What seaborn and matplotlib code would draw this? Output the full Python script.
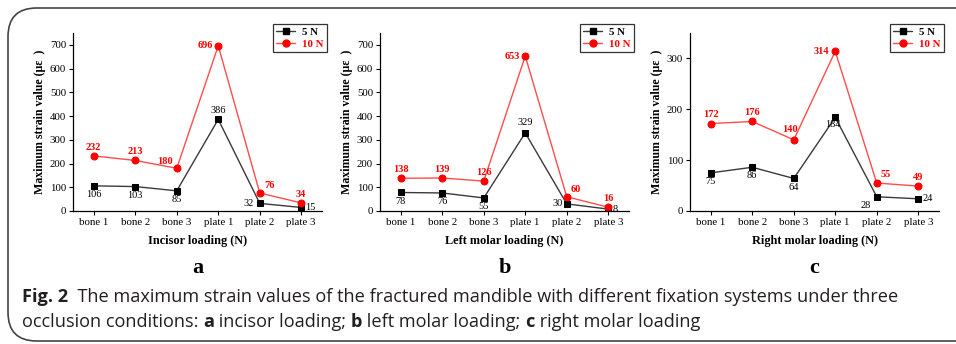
import numpy as np
import pandas as pd
import matplotlib
matplotlib.use("Agg")
import matplotlib.pyplot as plt
from matplotlib import font_manager
from matplotlib.patches import FancyBboxPatch
from matplotlib.lines import Line2D
import seaborn as sns

# ---- data ----
CATEGORIES = ["bone 1", "bone 2", "bone 3", "plate 1", "plate 2", "plate 3"]
INCISOR_5N = [106, 103, 85, 386, 32, 15]
INCISOR_10N = [232, 213, 180, 696, 76, 34]
LEFT_5N = [78, 76, 55, 329, 30, 8]
LEFT_10N = [138, 139, 126, 653, 60, 16]
RIGHT_5N = [75, 86, 64, 184, 28, 24]
RIGHT_10N = [172, 176, 140, 314, 55, 49]
XLABELS = ["Incisor loading (N)", "Left molar loading (N)", "Right molar loading (N)"]
PANEL_LETTERS = ["a", "b", "c"]
YTICKS = [[0, 100, 200, 300, 400, 500, 600, 700],
          [0, 100, 200, 300, 400, 500, 600, 700],
          [0, 100, 200, 300]]
YMAX = [750, 750, 350]

BLACK = "#000000"
GREY_LINE = "#3a3a3a"
RED = "#ff0000"
RED_LINE = "#ff4d4d"
SERIF = "Liberation Serif"

names = {f.name for f in font_manager.fontManager.ttflist}
CAP_FONT = "Open Sans" if "Open Sans" in names else "Liberation Sans"

sns.set_theme(style="white")
plt.rcParams["font.family"] = [SERIF, "DejaVu Serif"]

# label offsets (points) for each point annotation: (dx, dy, ha, va)
OFF_5N = [
    [(0, -3, "center", "top"), (0, -3, "center", "top"), (0, -3, "center", "top"),
     (0, 3, "center", "bottom"), (-4, 0, "right", "center"), (3, 0, "left", "center")],
    [(0, -3, "center", "top"), (0, -3, "center", "top"), (0, -3, "center", "top"),
     (0, 4, "center", "bottom"), (-3, 0, "right", "center"), (3, 0, "left", "center")],
    [(0, -3, "center", "top"), (0, -3, "center", "top"), (0, -3, "center", "top"),
     (-2, -2, "center", "top"), (-4, -3, "right", "top"), (3, 0, "left", "center")],
]
OFF_10N = [
    [(0, 3, "center", "bottom"), (0, 3, "center", "bottom"), (-3, 2, "right", "bottom"),
     (-4, 0, "right", "center"), (3, 2, "left", "bottom"), (0, 3, "center", "bottom")],
    [(0, 3, "center", "bottom"), (0, 3, "center", "bottom"), (0, 3, "center", "bottom"),
     (-4, 0, "right", "center"), (3, 2, "left", "bottom"), (0, 3, "center", "bottom")],
    [(0, 3, "center", "bottom"), (0, 3, "center", "bottom"), (-3, 4, "center", "bottom"),
     (-4, 0, "right", "center"), (3, 3, "left", "bottom"), (0, 3, "center", "bottom")],
]

W, H = 956, 344
fig = plt.figure(figsize=(W / 100, H / 100), dpi=100)
fig.patch.set_facecolor("white")

# rounded frame open to the right
frame = FancyBboxPatch((8 / W, 3 / H), 1.2, (H - 11) / H,
                       boxstyle="round,pad=0,rounding_size=0.03",
                       transform=fig.transFigure, fill=False,
                       edgecolor="#444444", linewidth=1.2, clip_on=False,
                       mutation_aspect=W / H)
fig.add_artist(frame)

lefts = [73, 380, 690]
ax_w = 249
ax_top, ax_bot = 33, 211
series = [(INCISOR_5N, INCISOR_10N), (LEFT_5N, LEFT_10N), (RIGHT_5N, RIGHT_10N)]
x = np.arange(len(CATEGORIES))

for i, (s5, s10) in enumerate(series):
    ax = fig.add_axes([lefts[i] / W, 1 - ax_bot / H, ax_w / W, (ax_bot - ax_top) / H])
    df = pd.DataFrame({"pos": np.concatenate([x, x]),
                       "val": s5 + s10,
                       "load": ["5 N"] * 6 + ["10 N"] * 6})
    sns.lineplot(data=df[df["load"] == "5 N"], x="pos", y="val", ax=ax,
                 color=GREY_LINE, linewidth=1.0, marker="s", markersize=4.5,
                 markerfacecolor=BLACK, markeredgecolor=BLACK, legend=False)
    sns.lineplot(data=df[df["load"] == "10 N"], x="pos", y="val", ax=ax,
                 color=RED_LINE, linewidth=1.0, marker="o", markersize=5,
                 markerfacecolor=RED, markeredgecolor=RED, legend=False)

    for j in range(6):
        dx, dy, ha, va = OFF_5N[i][j]
        ax.annotate(str(s5[j]), (x[j], s5[j]), xytext=(dx, dy), textcoords="offset points",
                    ha=ha, va=va, fontsize=7.5, color=BLACK, family=SERIF)
        dx, dy, ha, va = OFF_10N[i][j]
        ax.annotate(str(s10[j]), (x[j], s10[j]), xytext=(dx, dy), textcoords="offset points",
                    ha=ha, va=va, fontsize=7.5, color=RED, fontweight="bold", family=SERIF)

    ax.set_xlim(-0.5, 5.5)
    ax.set_ylim(0, YMAX[i])
    ax.set_xticks(x)
    ax.set_xticklabels(CATEGORIES)
    ax.set_yticks(YTICKS[i])
    ax.tick_params(axis="both", direction="out", length=3, width=0.8, labelsize=7.8,
                   colors=BLACK, pad=2, left=True, bottom=True)
    for sp in ["top", "right"]:
        ax.spines[sp].set_visible(False)
    for sp in ["left", "bottom"]:
        ax.spines[sp].set_color(BLACK)
        ax.spines[sp].set_linewidth(0.9)
    ax.set_xlabel(XLABELS[i], fontsize=8.8, fontweight="bold", labelpad=6, color=BLACK)
    ax.set_ylabel("Maximum strain value (\u03bc\u03b5  )", fontsize=8.6, fontweight="bold",
                  labelpad=3, color=BLACK)
    ax.set_facecolor("white")

    handles = [Line2D([], [], color=GREY_LINE, lw=1.0, marker="s", markersize=4.5,
                      markerfacecolor=BLACK, markeredgecolor=BLACK),
               Line2D([], [], color=RED_LINE, lw=1.0, marker="o", markersize=5,
                      markerfacecolor=RED, markeredgecolor=RED)]
    leg = ax.legend(handles, ["5 N", "10 N"], loc="upper right", bbox_to_anchor=(1.04, 1.08),
                    frameon=True, fancybox=False, handlelength=1.8,
                    handletextpad=0.6, borderpad=0.3, labelspacing=0.2,
                    prop={"family": SERIF, "weight": "bold", "size": 7.8})
    leg.get_frame().set_edgecolor(BLACK)
    leg.get_frame().set_linewidth(0.9)
    for t, c in zip(leg.get_texts(), [BLACK, RED]):
        t.set_color(c)

    cx = (lefts[i] + ax_w / 2) / W
    fig.text(cx, 1 - 268 / H, PANEL_LETTERS[i], ha="center", va="center",
             fontsize=16, fontweight="bold", family=SERIF, color=BLACK)

# caption with mixed weights
fig.canvas.draw()
renderer = fig.canvas.get_renderer()

LINE1 = [("Fig. 2", True),
         ("  The maximum strain values of the fractured mandible with different "
          "fixation systems under three", False)]
LINE2 = [("occlusion conditions: ", False), ("a", True), (" incisor loading; ", False),
         ("b", True), (" left molar loading; ", False), ("c", True),
         (" right molar loading", False)]


def runs_width(runs, size):
    total = 0
    for txt, bold in runs:
        t = fig.text(0, 0, txt, fontsize=size, family=CAP_FONT,
                     fontweight="bold" if bold else "normal")
        total += t.get_window_extent(renderer=renderer).width
        t.remove()
    return total


cap_size = 11.0 * 878 / runs_width(LINE1, 11.0)


def draw_runs(x0, y0, runs):
    xp = x0
    for txt, bold in runs:
        t = fig.text(xp / W, 1 - y0 / H, txt, ha="left", va="baseline", fontsize=cap_size,
                     family=CAP_FONT, fontweight="bold" if bold else "normal",
                     color="#231f20")
        xp += t.get_window_extent(renderer=renderer).width


draw_runs(22, 302, LINE1)
draw_runs(22, 327, LINE2)

fig.savefig("out.png", dpi=100, facecolor="white")
